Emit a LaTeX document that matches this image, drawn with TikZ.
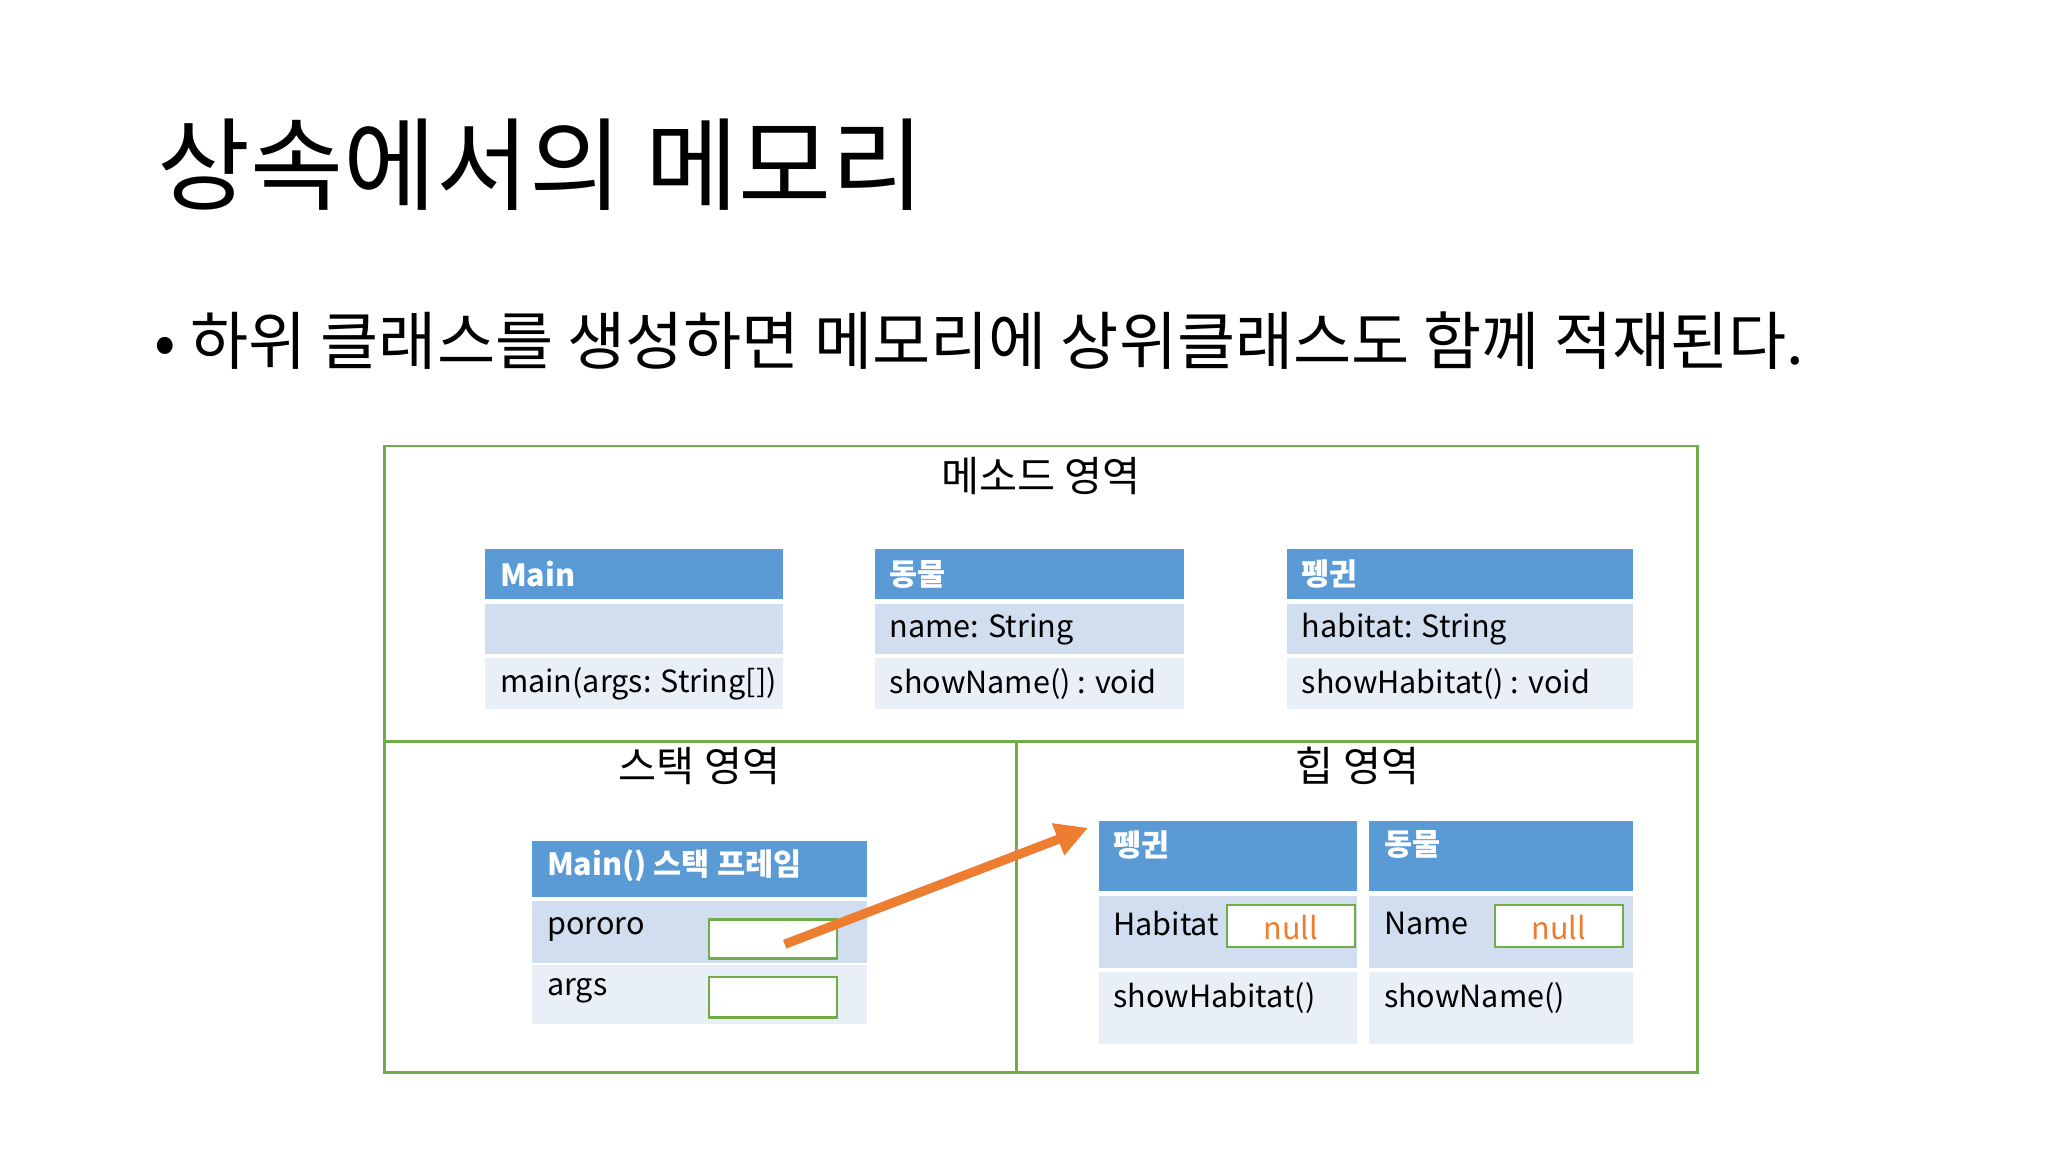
\documentclass[tikz,border=0pt]{standalone}
\usepackage{fontspec}
\setmainfont{Noto Sans CJK KR}
\usetikzlibrary{arrows.meta}
\definecolor{hb}{HTML}{5B9BD5}
\definecolor{r1}{HTML}{D0DEEF}
\definecolor{r2}{HTML}{E9EFF7}
\definecolor{gr}{HTML}{70AD47}
\definecolor{og}{HTML}{ED7D31}
\tikzset{
 txt/.style={anchor=west,inner sep=0pt,font=\fontsize{13.3}{15}\selectfont},
 htxt/.style={anchor=west,inner sep=0pt,font=\fontsize{13.3}{15}\selectfont\bfseries,text=white},
 sec/.style={inner sep=0pt,font=\fontsize{18}{20}\selectfont},
 slot/.style={draw=gr,line width=1pt,fill=white},
 nul/.style={text=og,font=\fontsize{13.3}{15}\selectfont},
}
\begin{document}
\begin{tikzpicture}[x=0.02cm,y=-0.02cm]
\useasboundingbox (0,0) rectangle (1566,881);
\node[anchor=base west,inner sep=0pt,font=\fontsize{44}{48}\selectfont] (title) at (120,155) {상속에서의 메모리};
\node[anchor=base west,inner sep=0pt,font=\fontsize{27.5}{32}\selectfont] (bul) at (118,279) {• 하위 클래스를 생성하면 메모리에 상위클래스도 함께 적재된다.};
% outer
\draw[gr,line width=1.2pt] (294,341) rectangle (1298,820);
\draw[gr,line width=1.2pt] (294,567) -- (1298,567);
\draw[gr,line width=1.2pt] (777,567) -- (777,820);
\node[sec] (m) at (796,364) {메소드 영역};
\node[sec] (s) at (535,586) {스택 영역};
\node[sec] (h) at (1038,586) {힙 영역};
% method area classes
\foreach \xa/\xb/\h/\ra/\rb/\nm in {371/599/Main//main(args: String[])/c1, 669/905/동물/name: String/showName() : void/c2, 984/1249/펭귄/habitat: String/showHabitat() : void/c3}{
 \fill[hb] (\xa,420) rectangle (\xb,458);
 \fill[r1] (\xa,462) rectangle (\xb,500);
 \fill[r2] (\xa,503) rectangle (\xb,542);
 \node[htxt] (\nm h) at (\xa+11,439) {\h};
 \node[txt] (\nm a) at (\xa+11,481) {\ra};
 \node[txt] (\nm b) at (\xa+11,523) {\rb};
}
% stack frame
\fill[hb] (407,643) rectangle (663,686);
\fill[r1] (407,689) rectangle (663,736);
\fill[r2] (407,738) rectangle (663,783);
\node[htxt] (sf) at (418,662) {Main() 스택 프레임};
\node[txt] (po) at (418,711) {pororo};
\node[txt] (ar) at (418,758) {args};
\draw[slot] (542,703) rectangle (640,733);
\draw[slot] (542,747) rectangle (640,778);
% heap
\foreach \xa/\xb/\h/\f/\m/\nm/\na/\nb in {840/1038/펭귄/Habitat/showHabitat()/p/938/1036, 1047/1249/동물/Name/showName()/d/1143/1241}{
 \fill[hb] (\xa,628) rectangle (\xb,681);
 \fill[r1] (\xa,685) rectangle (\xb,740);
 \fill[r2] (\xa,743) rectangle (\xb,798);
 \node[htxt] (\nm h) at (\xa+11,646) {\h};
 \node[txt] (\nm f) at (\xa+11,706) {\f};
 \node[txt] (\nm m) at (\xa+11,763) {\m};
 \draw[slot] (\na,692) rectangle (\nb,724);
 \node[nul] (\nm n) at ({(\na+\nb)/2},709) {null};
}
\coordinate (a1) at (600,722);
\coordinate (a2) at (832,633);
\draw[og,line width=4pt,-{Triangle[length=14pt,width=14pt]}] (a1) -- (a2);
\end{tikzpicture}
\end{document}
